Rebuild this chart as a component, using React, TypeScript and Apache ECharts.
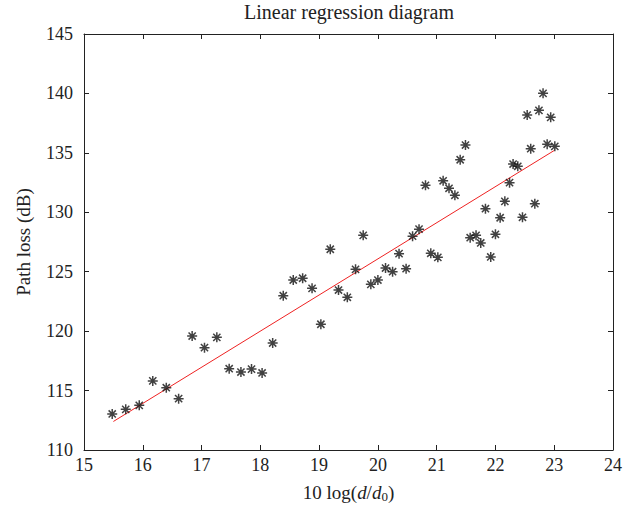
import React, { useEffect, useRef } from "react";
import * as echarts from "echarts";

const xValues = [15.48, 15.71, 15.94, 16.17, 16.40, 16.61, 16.84, 17.05, 17.26, 17.47, 17.67, 17.85, 18.03, 18.21, 18.39, 18.56, 18.72, 18.88, 19.03, 19.19, 19.33, 19.48, 19.62, 19.75, 19.88, 20.0, 20.13, 20.25, 20.36, 20.48, 20.59, 20.70, 20.81, 20.90, 21.02, 21.11, 21.21, 21.31, 21.40, 21.49, 21.57, 21.67, 21.75, 21.83, 21.92, 22.0, 22.08, 22.16, 22.24, 22.30, 22.38, 22.46, 22.54, 22.60, 22.67, 22.74, 22.81, 22.88, 22.94, 23.01];
const yValues = [113.03, 113.42, 113.76, 115.81, 115.24, 114.32, 119.59, 118.61, 119.48, 116.84, 116.56, 116.81, 116.48, 119.0, 122.98, 124.30, 124.45, 123.60, 120.58, 126.89, 123.46, 122.85, 125.20, 128.06, 123.94, 124.30, 125.31, 125.0, 126.52, 125.25, 127.99, 128.58, 132.27, 126.55, 126.21, 132.65, 132.02, 131.43, 134.42, 135.66, 127.86, 128.06, 127.42, 130.30, 126.24, 128.15, 129.54, 130.92, 132.49, 134.06, 133.87, 129.58, 138.18, 135.35, 130.72, 138.58, 140.01, 135.73, 137.99, 135.55];
const fitX = [15.5, 23.0];
const fitY = [112.4, 135.2];

const FONT = "'Liberation Serif', 'DejaVu Serif', serif";
const STAR = "path://M0,-5L0,5M-5,0L5,0M-3.6,-3.6L3.6,3.6M-3.6,3.6L3.6,-3.6";

export default function App() {
  const ref = useRef<HTMLDivElement>(null);
  useEffect(() => {
    if (!ref.current) return;
    const chart = echarts.init(ref.current, undefined, { renderer: "svg" });
    const axisCommon = {
      axisLine: { show: true, lineStyle: { color: "#222", width: 1 } },
      axisTick: { show: true, inside: true, length: 5, lineStyle: { color: "#222" } },
      splitLine: { show: false },
    };
    chart.setOption({
      animation: false,
      backgroundColor: "#fff",
      title: {
        text: "Linear regression diagram",
        left: 349,
        textAlign: "center",
        top: 2,
        padding: 0,
        textStyle: { fontFamily: FONT, fontSize: 20, fontWeight: "normal", color: "#222" },
      },
      grid: { left: 84, right: 24, top: 34, bottom: 61 },
      xAxis: [
        {
          type: "value", min: 15, max: 24, interval: 1, position: "bottom",
          ...axisCommon,
          axisLabel: { fontFamily: FONT, fontSize: 18, color: "#222", margin: 6 },
          name: "{n|10 log(}{i|d}{n|/}{i|d}{s|0}{n|)}",
          nameLocation: "middle",
          nameGap: 31,
          nameTextStyle: {
            rich: {
              n: { fontFamily: FONT, fontSize: 19, color: "#222" },
              i: { fontFamily: FONT, fontSize: 19, fontStyle: "italic", color: "#222" },
              s: { fontFamily: FONT, fontSize: 13, color: "#222", verticalAlign: "bottom", padding: [9, 0, 0, 0] },
            },
          },
        },
        {
          type: "value", min: 15, max: 24, interval: 1, position: "top",
          ...axisCommon,
          axisLabel: { show: false },
        },
      ],
      yAxis: [
        {
          type: "value", min: 110, max: 145, interval: 5, position: "left",
          ...axisCommon,
          axisLabel: { fontFamily: FONT, fontSize: 18, color: "#222", margin: 11 },
          name: "Path loss (dB)",
          nameLocation: "middle",
          nameGap: 51,
          nameTextStyle: { fontFamily: FONT, fontSize: 19, color: "#222" },
        },
        {
          type: "value", min: 110, max: 145, interval: 5, position: "right",
          ...axisCommon,
          axisLabel: { show: false },
        },
      ],
      series: [
        {
          type: "line",
          data: fitX.map((x, i) => [x, fitY[i]]),
          showSymbol: false,
          symbol: "none",
          lineStyle: { color: "#ee2222", width: 1 },
          z: 1,
        },
        {
          type: "scatter",
          data: xValues.map((x, i) => [x, yValues[i]]),
          symbol: STAR,
          symbolSize: 10,
          itemStyle: { color: "transparent", borderColor: "#111", borderWidth: 1.5 },
          z: 2,
        },
      ],
    });
    return () => chart.dispose();
  }, []);
  return (
    <div
      ref={ref}
      style={{ position: "absolute", left: 0, top: 0, width: 637, height: 511 }}
    />
  );
}
